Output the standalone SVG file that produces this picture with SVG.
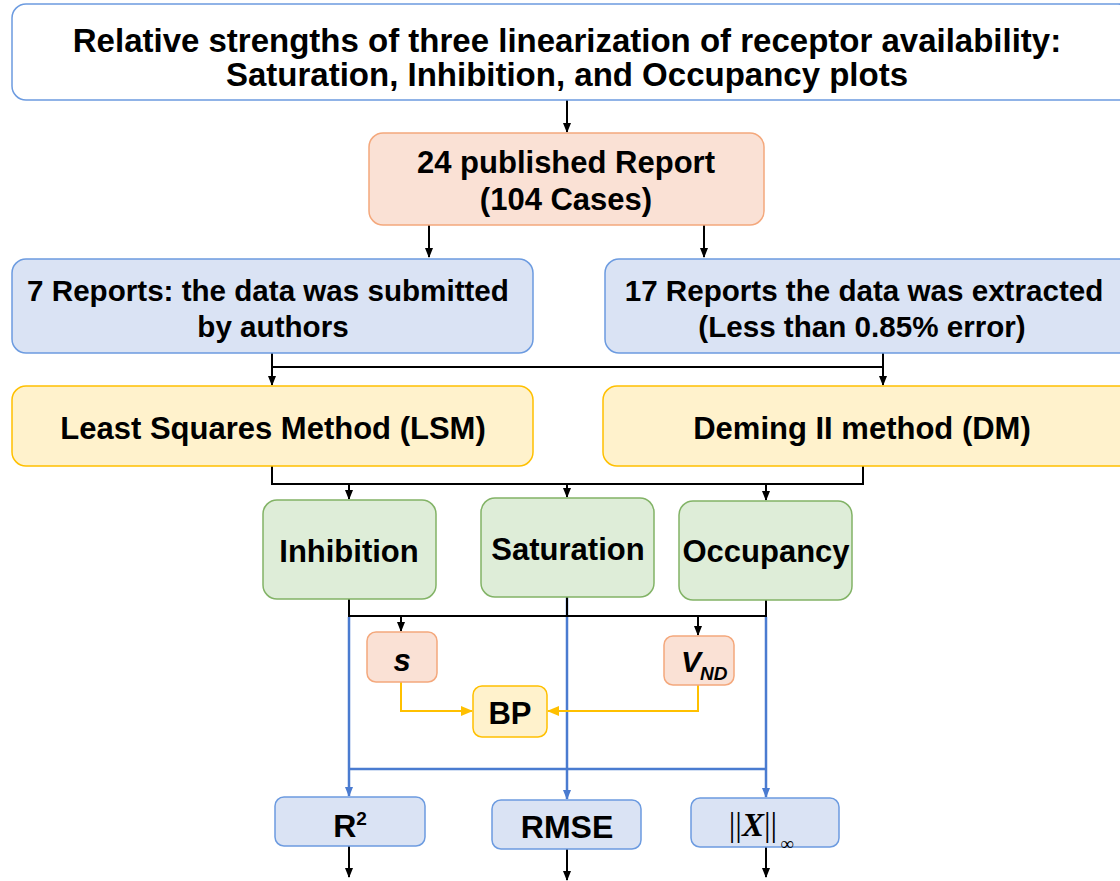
<svg xmlns="http://www.w3.org/2000/svg" width="1120" height="881" viewBox="0 0 1120 881">
<style>
text{font-family:"Liberation Sans",Arial,sans-serif;font-weight:bold;font-size:31px;fill:#000;text-anchor:middle}
.t33{font-size:33px}
.t30{font-size:29.6px}
.white{fill:#fff;stroke:#6c9be0;stroke-width:1.5}
.peach{fill:#fae1d5;stroke:#f4a87c;stroke-width:1.5}
.blue{fill:#dae3f4;stroke:#6c9be0;stroke-width:1.5}
.yellow{fill:#fff2cc;stroke:#ffc000;stroke-width:1.5}
.green{fill:#deedd8;stroke:#82b366;stroke-width:1.5}
.k{fill:none;stroke:#000;stroke-width:2}
.b{fill:none;stroke:#4a7bd0;stroke-width:2.5}
.g{fill:none;stroke:#ffc000;stroke-width:2}
.m{font-family:"Liberation Serif","Times New Roman",serif;font-weight:normal}
</style>
<defs>
<marker id="ak" markerWidth="10" markerHeight="10" refX="9" refY="5" orient="auto" markerUnits="userSpaceOnUse"><path d="M0,1 L10,5 L0,9 Z" fill="#000"/></marker>
<marker id="ab" markerWidth="10" markerHeight="10" refX="9" refY="5" orient="auto" markerUnits="userSpaceOnUse"><path d="M0,1 L10,5 L0,9 Z" fill="#4a7bd0"/></marker>
<marker id="ag" markerWidth="12" markerHeight="12" refX="11" refY="6" orient="auto" markerUnits="userSpaceOnUse"><path d="M0,1 L12,6 L0,11 Z" fill="#ffc000"/></marker>
</defs>
<rect width="1120" height="881" fill="#fff"/>

<g id="connectors">
<path class="k" d="M567,100 V132" marker-end="url(#ak)"/>
<path class="k" d="M429,225 V257" marker-end="url(#ak)"/>
<path class="k" d="M704,225 V257" marker-end="url(#ak)"/>
<path class="k" d="M272,353 V385" marker-end="url(#ak)"/>
<path class="k" d="M883,353 V385" marker-end="url(#ak)"/>
<path class="k" d="M272,367 H883"/>
<path class="k" d="M272,466 V484 H863 V466"/>
<path class="k" d="M349,484 V499" marker-end="url(#ak)"/>
<path class="k" d="M567,484 V497" marker-end="url(#ak)"/>
<path class="k" d="M766,484 V500" marker-end="url(#ak)"/>
<path class="b" d="M349,617 V796" marker-end="url(#ab)"/>
<path class="b" d="M567,597 V799" marker-end="url(#ab)"/>
<path class="b" d="M766,617 V797" marker-end="url(#ab)"/>
<path class="b" d="M349,769 H766"/>
<path class="k" d="M349,599 V616 H766 V600"/>
<path class="k" d="M567,597 V616"/>
<path class="k" d="M401,616 V631" marker-end="url(#ak)"/>
<path class="k" d="M698,616 V635" marker-end="url(#ak)"/>
<path class="g" d="M401,682 V711 H472" marker-end="url(#ag)"/>
<path class="g" d="M698,685 V711 H548" marker-end="url(#ag)"/>
<path class="k" d="M349,846 V877" marker-end="url(#ak)"/>
<path class="k" d="M567,849 V880" marker-end="url(#ak)"/>
<path class="k" d="M766,847 V877" marker-end="url(#ak)"/>
</g>

<g id="title">
<rect class="white" x="12" y="4" width="1120" height="96" rx="14"/>
<text class="t33" x="567" y="52">Relative strengths of three linearization of receptor availability:</text>
<text class="t33" x="567" y="86">Saturation, Inhibition, and Occupancy plots</text>
</g>
<g id="reports">
<rect class="peach" x="369" y="133" width="395" height="92" rx="14"/>
<text x="566" y="173">24 published Report</text>
<text x="566" y="210">(104 Cases)</text>
</g>
<g id="submitted">
<rect class="blue" x="12" y="259" width="521" height="94" rx="14"/>
<text class="t30" x="268" y="301">7 Reports: the data was submitted</text>
<text class="t30" x="273" y="337">by authors</text>
</g>
<g id="extracted">
<rect class="blue" x="605" y="259" width="530" height="94" rx="14"/>
<text class="t30" x="864" y="301">17 Reports the data was extracted</text>
<text class="t30" x="862" y="337">(Less than 0.85% error)</text>
</g>
<g id="lsm">
<rect class="yellow" x="12" y="386" width="521" height="80" rx="14"/>
<text x="273" y="439">Least Squares Method (LSM)</text>
</g>
<g id="dm">
<rect class="yellow" x="603" y="386" width="530" height="80" rx="14"/>
<text x="862" y="439">Deming II method (DM)</text>
</g>
<g id="inhibition">
<rect class="green" x="263" y="500" width="173" height="99" rx="14"/>
<text x="349" y="562">Inhibition</text>
</g>
<g id="saturation">
<rect class="green" x="481" y="498" width="173" height="99" rx="14"/>
<text x="568" y="560">Saturation</text>
</g>
<g id="occupancy">
<rect class="green" x="679" y="501" width="173" height="99" rx="14"/>
<text x="766" y="562">Occupancy</text>
</g>
<g id="s">
<rect class="peach" x="367" y="632" width="70" height="50" rx="9"/>
<text x="402" y="671" font-style="italic">s</text>
</g>
<g id="vnd">
<rect class="peach" x="664" y="636" width="70" height="49" rx="9"/>
<text x="701" y="672" font-style="italic" style="text-anchor:end;font-size:30px">V</text>
<text x="700" y="680" font-style="italic" style="text-anchor:start;font-size:19px">ND</text>
</g>
<g id="bp">
<rect class="yellow" x="473" y="686" width="74" height="51" rx="9"/>
<text x="510" y="724">BP</text>
</g>
<g id="r2">
<rect class="blue" x="275" y="797" width="150" height="49" rx="9"/>
<text x="350" y="837" style="font-size:32px">R<tspan dy="-12" style="font-size:19px">2</tspan></text>
</g>
<g id="rmse">
<rect class="blue" x="492" y="800" width="149" height="49" rx="9"/>
<text x="567" y="838" style="font-size:32px">RMSE</text>
</g>
<g id="norm">
<rect class="blue" x="691" y="798" width="148" height="49" rx="9"/>
<text class="m" x="753" y="836" style="font-size:33px">||<tspan font-style="italic" font-weight="bold">X</tspan>||</text>
<text class="m" x="787" y="850" style="font-size:19px">∞</text>
</g>
</svg>
